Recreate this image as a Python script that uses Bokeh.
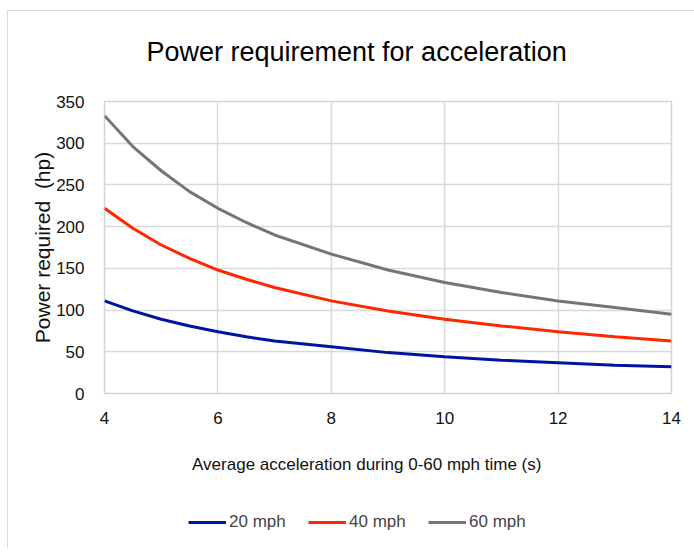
from bokeh.plotting import figure
from bokeh.models import Range1d, FixedTicker, Legend, LegendItem
from bokeh.layouts import column
from bokeh.embed import file_html
from bokeh.resources import INLINE

times = [4, 4.5, 5, 5.5, 6, 6.5, 7, 8, 9, 10, 11, 12, 13, 14]
mph20 = [111, 99, 89, 81, 74, 68, 63, 56, 49, 44, 40, 37, 34, 32]
mph40 = [222, 198, 178, 162, 148, 137, 127, 111, 99, 89, 81, 74, 68, 63]
mph60 = [333, 296, 267, 242, 222, 205, 190, 167, 148, 133, 121, 111, 103, 95]
series_names = ["20 mph", "40 mph", "60 mph"]
series_colors = ["#0014a4", "#ff2600", "#757575"]
x_ticks = [4, 6, 8, 10, 12, 14]
y_ticks = [0, 50, 100, 150, 200, 250, 300, 350]

FONT = "Liberation Sans, Arial"
NB = "\u00a0"

p = figure(width=686, height=497, output_backend="svg", toolbar_location=None,
           x_range=Range1d(4, 14), y_range=Range1d(0, 350),
           min_border_left=96, min_border_right=23, min_border_top=90, min_border_bottom=115,
           title="Power requirement for acceleration")

p.title.text_font = FONT
p.title.text_font_size = "27px"
p.title.text_font_style = "normal"
p.title.text_color = "#000000"
p.title.align = "left"
p.title.vertical_align = "bottom"
p.title.offset = 42
p.title.standoff = 10
p.title.padding = dict(top=0, bottom=30, left=0, right=0)

renderers = []
for ys, c in zip([mph20, mph40, mph60], series_colors):
    r = p.line(times, ys, line_color=c, line_width=3)
    renderers.append(r)

p.outline_line_color = "#d4d4d4"
p.outline_line_width = 1.5
for ax in (p.xaxis[0], p.yaxis[0]):
    ax.axis_line_color = None
    ax.major_tick_line_color = None
    ax.minor_tick_line_color = None
    ax.major_label_text_font = FONT
    ax.major_label_text_font_size = "17px"
    ax.major_label_text_color = "#111111"
    ax.axis_label_text_font = FONT
    ax.axis_label_text_font_style = "normal"
    ax.axis_label_text_color = "#111111"

p.xaxis.axis_label_text_font_size = "17px"
p.yaxis.axis_label_text_font_size = "21px"
p.xaxis.ticker = FixedTicker(ticks=x_ticks)
p.yaxis.ticker = FixedTicker(ticks=y_ticks)
p.xaxis.major_label_standoff = 12
p.yaxis.major_label_standoff = 14
p.xaxis.axis_label = "Average acceleration during 0-60 mph time (s)" + NB * 9
p.yaxis.axis_label = "Power required" + NB + " (hp)"
p.xaxis.axis_label_standoff = 28
p.yaxis.axis_label_standoff = -1

p.xgrid.ticker = FixedTicker(ticks=x_ticks)
p.ygrid.ticker = FixedTicker(ticks=y_ticks)
p.xgrid.grid_line_color = "#d9d9d9"
p.ygrid.grid_line_color = "#d9d9d9"
p.xgrid.grid_line_width = 1.5
p.ygrid.grid_line_width = 1.5

# legend strip below the chart (its lines fall outside its own ranges, only the legend shows)
p2 = figure(width=686, height=40, output_backend="svg", toolbar_location=None,
            x_range=Range1d(0, 1), y_range=Range1d(0, 1),
            x_axis_type=None, y_axis_type=None,
            min_border_left=0, min_border_right=0, min_border_top=0, min_border_bottom=0)
p2.outline_line_color = None
legend_renderers = [p2.line(times, ys, line_color=c, line_width=3)
                    for ys, c in zip([mph20, mph40, mph60], series_colors)]
legend = Legend(items=[LegendItem(label=n, renderers=[r]) for n, r in zip(series_names, legend_renderers)],
                orientation="horizontal", location=(84, 16),
                border_line_color=None, background_fill_alpha=0,
                label_text_font=FONT, label_text_font_size="17px",
                glyph_width=38, glyph_height=20, label_standoff=3, label_width=57,
                spacing=22, padding=0, margin=0)
p2.add_layout(legend)

layout = column(p, p2, spacing=0,
                styles={"margin-left": "7px", "margin-top": "10px",
                        "border-top": "1px solid #d9d9d9", "border-left": "1px solid #d9d9d9"})

open("out.html", "w").write(file_html(layout, INLINE))
